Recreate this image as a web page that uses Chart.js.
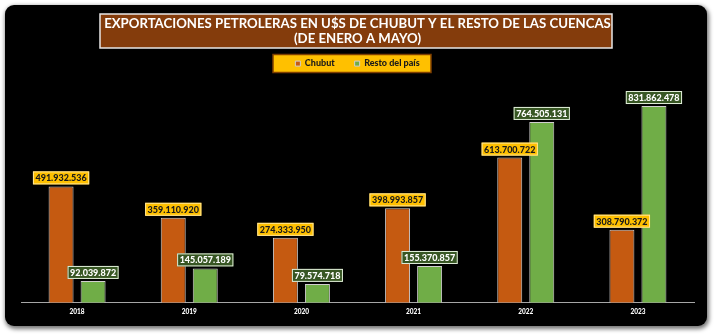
<!DOCTYPE html>
<html><head><meta charset="utf-8">
<script src="https://cdn.jsdelivr.net/npm/chart.js@4.4.0/dist/chart.umd.min.js"></script>
<style>
html,body{margin:0;padding:0;background:#fff;width:715px;height:335px;overflow:hidden}
#panel{position:absolute;left:5px;top:5px;width:702px;height:321px;background:#000;border-radius:9px;box-shadow:1px 2px 4px 1px rgba(0,0,0,0.55)}
#c{position:absolute;left:0;top:0}
</style></head><body>
<div id="panel"></div>
<canvas id="c" width="715" height="335"></canvas>
<script>
const categories = ['2018', '2019', '2020', '2021', '2022', '2023'];
const chubut = [491932536, 359110920, 274333950, 398993857, 613700722, 308790372];
const resto = [92039872, 145057189, 79574718, 155370857, 764505131, 831862478];
const seriesNames = ['Chubut', 'Resto del país'];
const titleLines = ['EXPORTACIONES PETROLERAS EN U$S DE CHUBUT Y EL RESTO DE LAS CUENCAS', '(DE ENERO A MAYO)'];

const fmt = v => String(Math.round(v)).replace(/\B(?=(\d{3})+(?!\d))/g, '.');

const labelStyles = [
  {fill: '#FFC000', stroke: '#FFE699', text: '#1a1a1a'},
  {fill: '#375623', stroke: '#E2EFDA', text: '#ffffff'}
];

const boxesPlugin = {
  id: 'boxes',
  beforeDraw(chart) {
    const ctx = chart.ctx;
    ctx.save();
    ctx.fillStyle = '#843C0C';
    ctx.fillRect(100, 14, 512, 34);
    ctx.strokeStyle = '#E7E6E6';
    ctx.lineWidth = 1.5;
    ctx.strokeRect(100, 14, 512, 34);
    ctx.fillStyle = '#FFC000';
    ctx.fillRect(273, 54.5, 158, 18);
    ctx.strokeStyle = '#7F3F00';
    ctx.lineWidth = 1.5;
    ctx.strokeRect(273, 54.5, 158, 18);
    ctx.restore();
  }
};

const dataLabelsPlugin = {
  id: 'dataLabelsBox',
  afterDatasetsDraw(chart) {
    const ctx = chart.ctx;
    ctx.save();
    ctx.font = '900 9px Lato';
    ctx.textAlign = 'center';
    ctx.textBaseline = 'middle';
    chart.data.datasets.forEach((ds, di) => {
      const meta = chart.getDatasetMeta(di);
      const st = labelStyles[di];
      meta.data.forEach((el, i) => {
        const txt = fmt(ds.data[i]);
        const w = ctx.measureText(txt).width + 5;
        const h = 13;
        const x = el.x - w / 2;
        const y = el.y - 2 - h;
        ctx.fillStyle = st.fill;
        ctx.fillRect(x, y, w, h);
        ctx.strokeStyle = st.stroke;
        ctx.lineWidth = 1;
        ctx.strokeRect(x + 0.5, y + 0.5, w - 1, h - 1);
        ctx.fillStyle = st.text;
        ctx.fillText(txt, el.x, y + h / 2 + 0.5);
      });
    });
    ctx.restore();
  }
};

new Chart(document.getElementById('c'), {
  type: 'bar',
  data: {
    labels: categories,
    datasets: [
      {label: seriesNames[0], data: chubut, backgroundColor: '#C55A11', borderColor: '#D0CECE', borderWidth: 1,
       barPercentage: 0.78, categoryPercentage: 0.571},
      {label: seriesNames[1], data: resto, backgroundColor: '#70AD47', borderColor: '#D0CECE', borderWidth: 1,
       barPercentage: 0.78, categoryPercentage: 0.571}
    ]
  },
  options: {
    responsive: false,
    animation: false,
    devicePixelRatio: 1,
    layout: {padding: {left: 21, right: 21, top: 0, bottom: 14.5}},
    plugins: {
      title: {
        display: true,
        text: titleLines,
        color: '#ffffff',
        font: {family: 'Lato', size: 13.2, weight: 'bold', lineHeight: 1.17},
        padding: {top: 16, bottom: -7.8}
      },
      legend: {
        display: true,
        position: 'top',
        labels: {
          color: '#1a1a1a',
          font: {family: 'Lato', size: 9, weight: '900'},
          boxWidth: 5,
          boxHeight: 5,
          padding: 20
        }
      },
      tooltip: {enabled: false}
    },
    scales: {
      x: {
        grid: {display: false, drawTicks: false},
        border: {display: true, color: '#A6A6A6', width: 1},
        ticks: {color: '#ffffff', font: {family: 'Lato', size: 6.5, weight: '900'}, padding: 5}
      },
      y: {
        display: false,
        min: 0,
        max: 950000000
      }
    }
  },
  plugins: [boxesPlugin, dataLabelsPlugin]
});
</script>
</body></html>
